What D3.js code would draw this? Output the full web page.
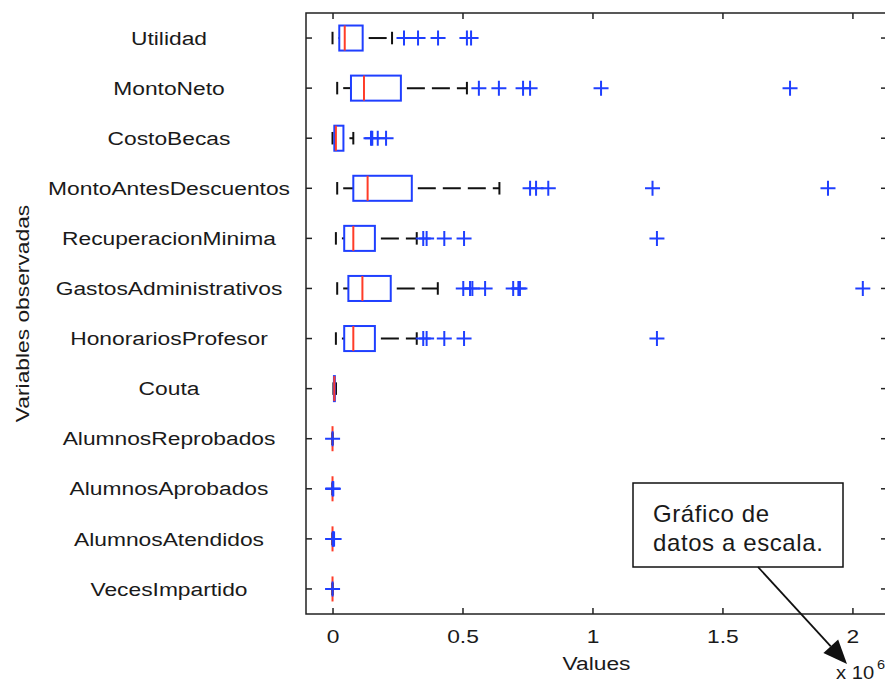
<!DOCTYPE html>
<html>
<head>
<meta charset="utf-8">
<script src="https://cdn.jsdelivr.net/npm/d3@7"></script>
<style>
  body { margin: 0; background: #fff; }
  svg { display: block; }
  text { font-family: "Liberation Sans", Arial, sans-serif; fill: #1a1a1a; }
</style>
</head>
<body>
<div id="chart"></div>
<script>
// variables (top to bottom)
var names = ["Utilidad", "MontoNeto", "CostoBecas", "MontoAntesDescuentos",
    "RecuperacionMinima", "GastosAdministrativos", "HonorariosProfesor", "Couta",
    "AlumnosReprobados", "AlumnosAprobados", "AlumnosAtendidos", "VecesImpartido"];

// box statistics
var lowWhisker  = [0,      18000,  0,      18000,  13000,  18000,  13000,  3500,  0, 0, 0, 0];
var q1          = [26000,  71000,  7000,   80000,  45000,  61000,  45000,  5500,  0, 0, 0, 0];
var medians     = [47000,  121000, 13000,  135000, 80000,  115000, 80000,  7000,  0, 0, 0, 0];
var q3          = [116000, 263000, 42000,  305000, 163000, 224000, 163000, 9000,  0, 0, 0, 0];
var highWhisker = [229000, 517000, 80000,  642000, 324000, 405000, 324000, 13500, 0, 0, 0, 0];

var outliers = [
    [275000, 329000, 406000, 517000, 533000],
    [563000, 640000, 733000, 760000, 1033000, 1760000],
    [148000, 153000, 174000, 206000],
    [760000, 783000, 830000, 1231000, 1906000],
    [349000, 362000, 430000, 506000, 1248000],
    [503000, 529000, 538000, 587000, 695000, 715000, 721000, 2040000],
    [349000, 362000, 430000, 506000, 1248000],
    [],
    [300],
    [300, 1500, 3000],
    [500, 2000, 4000, 6000],
    [200]
];

var xTicks = [0, 500000, 1000000, 1500000, 2000000];

var width = 885, height = 684;
var plot = {left: 306, right: 887, top: 13, bottom: 614};
var blue = "#1f3fff", red = "#ff3c28";
var stretch = 1.2;

var svg = d3.select("#chart").append("svg")
    .attr("width", width)
    .attr("height", height);

var x = d3.scaleLinear()
    .domain([-102000, 2133000])
    .range([plot.left, plot.right]);

var y = d3.scaleBand()
    .domain(names)
    .range([plot.top, plot.bottom]);

var bw = y.bandwidth();
function cy(name) { return y(name) + bw / 2; }

// ticks, all pointing inwards
function styleAxis(g) {
    g.select(".domain").remove();
    g.selectAll(".tick line").attr("stroke", "#222").attr("stroke-width", 1.5);
}
svg.append("g").attr("transform", "translate(0," + plot.bottom + ")")
    .call(d3.axisBottom(x).tickValues(xTicks).tickSize(-6).tickPadding(16)
        .tickFormat(function (d) { return d / 1e6; }))
    .call(styleAxis)
    .selectAll("text")
    .attr("font-size", 19)
    .attr("font-family", "Liberation Sans, Arial, sans-serif")
    .attr("fill", "#1a1a1a")
    .attr("transform", "scale(" + stretch + ",1)");

svg.append("g").attr("transform", "translate(0," + plot.top + ")")
    .call(d3.axisTop(x).tickValues(xTicks).tickSize(-6).tickFormat(""))
    .call(styleAxis);

svg.append("g").attr("transform", "translate(" + plot.left + ",0)")
    .call(d3.axisLeft(y).tickSize(-6).tickFormat(""))
    .call(styleAxis);

svg.append("g").attr("transform", "translate(" + plot.right + ",0)")
    .call(d3.axisRight(y).tickSize(-6).tickFormat(""))
    .call(styleAxis);

// frame
svg.append("rect")
    .attr("x", plot.left).attr("y", plot.top)
    .attr("width", plot.right - plot.left)
    .attr("height", plot.bottom - plot.top)
    .attr("fill", "none")
    .attr("stroke", "#222")
    .attr("stroke-width", 1.5);

// category labels
svg.selectAll(".cat")
    .data(names)
    .enter().append("text")
    .attr("class", "cat")
    .attr("transform", function (d) { return "translate(169," + cy(d) + ") scale(" + stretch + ",1)"; })
    .attr("dy", "0.35em")
    .attr("text-anchor", "middle")
    .attr("font-size", 19)
    .text(function (d) { return d; });

// axis titles
svg.append("text")
    .attr("transform", "translate(29," + ((plot.top + plot.bottom) / 2) + ") rotate(-90) scale(" + stretch + ",1)")
    .attr("text-anchor", "middle")
    .attr("font-size", 19)
    .text("Variables observadas");

svg.append("text")
    .attr("transform", "translate(" + ((plot.left + plot.right) / 2) + ",670) scale(" + stretch + ",1)")
    .attr("text-anchor", "middle")
    .attr("font-size", 19)
    .text("Values");

svg.append("text")
    .attr("transform", "translate(836,679) scale(1.12,1)")
    .attr("font-size", 18)
    .text("x 10");
svg.append("text")
    .attr("transform", "translate(877,669) scale(1.12,1)")
    .attr("font-size", 13)
    .text("6");

// boxes
var rows = names.map(function (n, i) {
    return {name: n, lo: lowWhisker[i], q1: q1[i], med: medians[i], q3: q3[i], hi: highWhisker[i], out: outliers[i]};
});

var g = svg.append("g");
var box = g.selectAll(".box").data(rows).enter().append("g").attr("class", "box");

// whiskers (dashed), drawn left to right
box.append("line")
    .attr("x1", function (d) { return x(d.lo); })
    .attr("x2", function (d) { return x(d.q1); })
    .attr("y1", function (d) { return cy(d.name); })
    .attr("y2", function (d) { return cy(d.name); });
box.append("line")
    .attr("x1", function (d) { return x(d.q3); })
    .attr("x2", function (d) { return x(d.hi); })
    .attr("y1", function (d) { return cy(d.name); })
    .attr("y2", function (d) { return cy(d.name); });
box.selectAll("line")
    .attr("stroke", "#111")
    .attr("stroke-width", 2)
    .attr("stroke-dasharray", "18 7")
    .attr("stroke-dashoffset", 19);

// caps
["lo", "hi"].forEach(function (k) {
    box.append("line")
        .attr("x1", function (d) { return x(d[k]); })
        .attr("x2", function (d) { return x(d[k]); })
        .attr("y1", function (d) { return cy(d.name) - bw / 8; })
        .attr("y2", function (d) { return cy(d.name) + bw / 8; })
        .attr("stroke", "#111")
        .attr("stroke-width", 2);
});

box.append("rect")
    .attr("x", function (d) { return x(d.q1); })
    .attr("y", function (d) { return cy(d.name) - bw / 4; })
    .attr("width", function (d) { return x(d.q3) - x(d.q1); })
    .attr("height", bw / 2)
    .attr("fill", "none")
    .attr("stroke", blue)
    .attr("stroke-width", 2);

box.append("line")
    .attr("x1", function (d) { return x(d.med); })
    .attr("x2", function (d) { return x(d.med); })
    .attr("y1", function (d) { return cy(d.name) - bw / 4; })
    .attr("y2", function (d) { return cy(d.name) + bw / 4; })
    .attr("stroke", red)
    .attr("stroke-width", 2);

// outliers as '+'
var ms = 7.5;
box.selectAll(".out")
    .data(function (d) { return d.out.map(function (v) { return {v: v, name: d.name}; }); })
    .enter().append("path")
    .attr("class", "out")
    .attr("d", function (d) {
        var px = x(d.v), py = cy(d.name);
        return "M" + (px - ms) + "," + py + "H" + (px + ms) + "M" + px + "," + (py - ms) + "V" + (py + ms);
    })
    .attr("stroke", blue)
    .attr("stroke-width", 2)
    .attr("fill", "none");

// annotation
var note = svg.append("g");
note.append("rect")
    .attr("x", 633).attr("y", 483)
    .attr("width", 210).attr("height", 84)
    .attr("fill", "#fff")
    .attr("stroke", "#111")
    .attr("stroke-width", 1.5);
note.append("text")
    .attr("x", 653).attr("y", 522)
    .attr("font-family", "Lato, 'Open Sans', sans-serif")
    .attr("font-size", 24)
    .attr("letter-spacing", 0.6)
    .text("Gráfico de");
note.append("text")
    .attr("x", 653).attr("y", 551)
    .attr("font-family", "Lato, 'Open Sans', sans-serif")
    .attr("font-size", 24)
    .attr("letter-spacing", 0.6)
    .text("datos a escala.");

var a0 = [758, 567], a1 = [847, 664];
var ang = Math.atan2(a1[1] - a0[1], a1[0] - a0[0]);
var hl = 24, hw = 10;
var base = [a1[0] - hl * Math.cos(ang), a1[1] - hl * Math.sin(ang)];
note.append("line")
    .attr("x1", a0[0]).attr("y1", a0[1])
    .attr("x2", base[0]).attr("y2", base[1])
    .attr("stroke", "#111").attr("stroke-width", 1.8);
note.append("path")
    .attr("d", "M" + a1[0] + "," + a1[1] +
        "L" + (base[0] + hw * Math.sin(ang)) + "," + (base[1] - hw * Math.cos(ang)) +
        "L" + (base[0] - hw * Math.sin(ang)) + "," + (base[1] + hw * Math.cos(ang)) + "Z")
    .attr("fill", "#111");
</script>
</body>
</html>
